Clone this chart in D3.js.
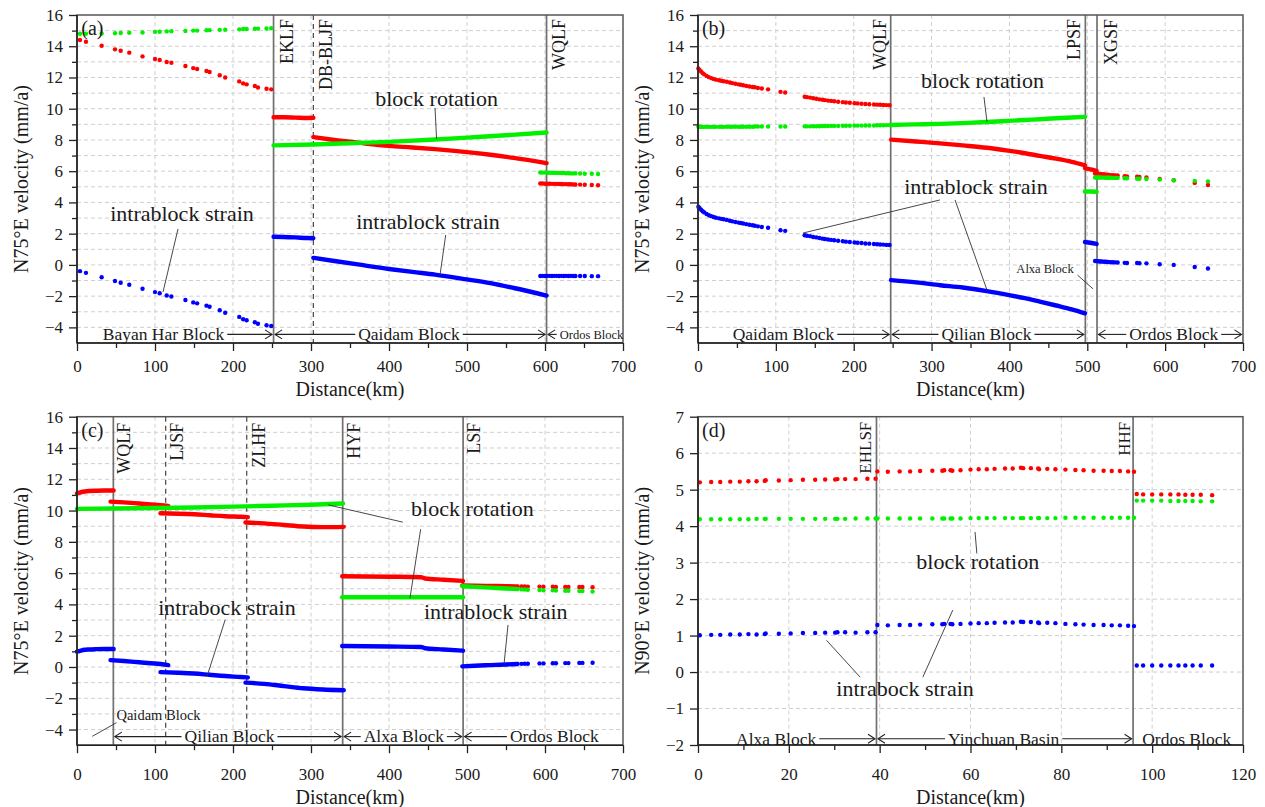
<!DOCTYPE html>
<html><head><meta charset="utf-8">
<script src="https://cdn.jsdelivr.net/npm/d3@7"></script>
<style>
body{margin:0;background:#fff;}
text{font-family:"Liberation Serif","Times New Roman",serif;fill:#1a1a1a;}
</style>
</head><body>
<script>
// ======================= DATA =======================
// tick labels
const tickKm = [0,100,200,300,400,500,600,700];
const tickVel = [-4,-2,0,2,4,6,8,10,12,14,16];
const tickKmD = [0,20,40,60,80,100,120];
const tickVelD = [-2,-1,0,1,2,3,4,5,6,7];

// ---- panel (a) ----
const aDist1=[3.8,11.5,31.6,48.7,56,67,84,100,106,115,121,139,149,154,166,170,183,190,208,213,217.5,228,232,243,249];
const aRed1=[14.4,14.29,14.03,13.8,13.71,13.59,13.35,13.18,13.12,12.99,12.94,12.73,12.6,12.54,12.41,12.35,12.15,12.0,11.75,11.62,11.56,11.45,11.36,11.28,11.24];
const aGreen1=[14.8,14.8,14.82,14.83,14.85,14.86,14.88,14.92,14.93,14.95,14.96,14.98,15.0,15.0,15.02,15.03,15.05,15.06,15.08,15.1,15.1,15.12,15.13,15.14,15.15];
const aBlue1=[-0.4,-0.51,-0.79,-1.03,-1.14,-1.27,-1.53,-1.74,-1.81,-1.96,-2.02,-2.25,-2.4,-2.46,-2.61,-2.68,-2.9,-3.06,-3.33,-3.48,-3.54,-3.67,-3.77,-3.86,-3.91];
const aDist2=[252,265,280,295,303];
const aRed2=[9.45,9.45,9.43,9.41,9.42];
const aBlue2=[1.8,1.79,1.76,1.72,1.71];
const aDistG=[252,303,350,400,459,500,550,602];
const aGreenG=[7.65,7.71,7.79,7.88,8.03,8.15,8.3,8.48];
const aDist3=[303,330,360,400,430,459,500,530,560,602];
const aRed3=[8.18,8.0,7.83,7.62,7.52,7.41,7.22,7.05,6.85,6.52];
const aBlue3=[0.45,0.25,0.03,-0.26,-0.45,-0.62,-0.93,-1.17,-1.48,-1.96];
const aDist4=[594,597,600,603,606,609,612,615,618,621,624,627,630,633,636,639,645,651,660,668];
const aRed4=[5.21,5.21,5.2,5.2,5.2,5.19,5.19,5.19,5.18,5.18,5.17,5.17,5.16,5.16,5.15,5.15,5.14,5.13,5.12,5.1];
const aGreen4=[5.92,5.91,5.91,5.9,5.9,5.9,5.89,5.89,5.89,5.88,5.88,5.87,5.87,5.86,5.86,5.86,5.85,5.84,5.84,5.82];
const aBlue4=[-0.71,-0.7,-0.71,-0.7,-0.7,-0.71,-0.7,-0.7,-0.71,-0.7,-0.71,-0.7,-0.71,-0.7,-0.71,-0.71,-0.71,-0.71,-0.72,-0.72];
const aFaults=["EKLF","DB-BLJF","WQLF"];
const aFaultKm=[252,303,602];
const aBlocks=["Bayan Har Block","Qaidam Block","Ordos Block"];
const aBlockFrom=[0,252,602];
const aBlockTo=[252,602,700];

// ---- panel (b) ----
const bDist1=[0.5,2,4,6,8,11,14,17,20,23,27,30,33,37,41,44,48,52,55,58,62,66,70,73,77,82,90,106,112,137,140,144,148,152,156,160,163,167,171,175,180,186,190,195,201,205,210,215,220,226,230,234,238,242,246];
const bRed1=[12.57,12.48,12.38,12.28,12.2,12.1,12.02,11.96,11.91,11.86,11.82,11.79,11.76,11.73,11.68,11.64,11.6,11.56,11.53,11.5,11.46,11.42,11.39,11.37,11.33,11.29,11.24,11.08,11.04,10.77,10.74,10.71,10.67,10.64,10.6,10.57,10.55,10.52,10.5,10.48,10.45,10.42,10.4,10.38,10.35,10.34,10.32,10.3,10.29,10.27,10.26,10.25,10.24,10.23,10.22];
const bGreen1=[8.85,8.85,8.85,8.84,8.84,8.84,8.84,8.84,8.84,8.84,8.84,8.84,8.84,8.85,8.85,8.85,8.85,8.85,8.85,8.85,8.85,8.85,8.85,8.86,8.86,8.86,8.86,8.86,8.86,8.87,8.87,8.87,8.88,8.88,8.88,8.89,8.89,8.89,8.9,8.9,8.9,8.91,8.91,8.91,8.92,8.92,8.92,8.93,8.93,8.93,8.94,8.94,8.94,8.95,8.95];
const bBlue1=[3.72,3.63,3.53,3.44,3.36,3.26,3.18,3.12,3.07,3.02,2.98,2.95,2.92,2.88,2.83,2.79,2.75,2.71,2.68,2.65,2.61,2.57,2.54,2.51,2.47,2.43,2.38,2.22,2.18,1.9,1.87,1.84,1.79,1.76,1.72,1.68,1.66,1.63,1.6,1.58,1.55,1.51,1.49,1.47,1.43,1.42,1.4,1.37,1.36,1.34,1.32,1.31,1.3,1.28,1.27];
const bDist2=[248,280,311,340,371,398,420,439,460,480,497];
const bRed2=[8.02,7.9,7.78,7.65,7.5,7.32,7.15,6.98,6.8,6.6,6.38];
const bGreen2=[8.96,9.0,9.03,9.08,9.15,9.22,9.28,9.33,9.39,9.44,9.48];
const bBlue2=[-0.97,-1.12,-1.3,-1.45,-1.68,-1.92,-2.13,-2.35,-2.6,-2.85,-3.1];
const bDist3=[497,504,512];
const bRed3=[6.2,6.12,6.02];
const bGreen3=[4.7,4.7,4.68];
const bBlue3=[1.47,1.42,1.34];
const bDist4=[510,512,514,516,518,520,522,524,526,528,530,533,536,539,548,551,564,567,576,593,611,638,655];
const bRed4=[5.85,5.84,5.83,5.82,5.81,5.8,5.79,5.78,5.77,5.76,5.75,5.74,5.73,5.72,5.68,5.67,5.64,5.63,5.6,5.5,5.42,5.25,5.12];
const bGreen4=[5.6,5.6,5.6,5.6,5.59,5.59,5.59,5.58,5.58,5.58,5.58,5.57,5.57,5.57,5.55,5.55,5.52,5.52,5.5,5.46,5.42,5.38,5.35];
const bBlue4=[0.25,0.24,0.23,0.22,0.22,0.21,0.2,0.2,0.19,0.18,0.17,0.17,0.16,0.15,0.13,0.12,0.12,0.11,0.1,0.04,0,-0.13,-0.23];
const bFaults=["WQLF","LPSF","XGSF"];
const bFaultKm=[247.5,497.5,512.5];
const bBlocks=["Qaidam Block","Qilian Block","Ordos Block"];
const bBlockFrom=[0,247.5,512.5];
const bBlockTo=[247.5,497.5,700];

// ---- panel (c) ----
const cDist1=[0,5,10,15,25,35,47];
const cRed1=[11.1,11.17,11.22,11.25,11.27,11.28,11.28];
const cBlue1=[0.98,1.05,1.1,1.12,1.14,1.15,1.15];
const cDistG=[0,50,100,150,200,250,300,341];
const cGreenG=[10.11,10.13,10.16,10.2,10.25,10.31,10.37,10.45];
const cDist2=[43,60,80,100,117];
const cRed2=[10.57,10.52,10.45,10.38,10.3];
const cBlue2=[0.44,0.38,0.3,0.22,0.12];
const cDist3=[107,130,150,170,190,210,219];
const cRed3=[9.83,9.8,9.76,9.7,9.64,9.6,9.58];
const cBlue3=[-0.33,-0.37,-0.42,-0.5,-0.58,-0.64,-0.67];
const cDist4=[216,240,265,290,315,342];
const cRed4=[9.24,9.18,9.08,8.98,8.94,8.96];
const cBlue4=[-1.0,-1.08,-1.22,-1.36,-1.44,-1.49];
const cDist5=[340,400,441,446,470,495];
const cRed5=[5.8,5.77,5.74,5.66,5.58,5.5];
const cGreen5=[4.46,4.46,4.46,4.46,4.46,4.46];
const cBlue5=[1.34,1.31,1.28,1.2,1.12,1.04];
const cDist6=[494,510,530,550,565];
const cRed6=[5.22,5.2,5.18,5.16,5.15];
const cGreen6=[5.16,5.12,5.07,5.02,4.98];
const cBlue6=[0.04,0.08,0.12,0.16,0.19];
const cDist7=[570,574,578,593,598,610,614,626,630,644,648,661];
const cRed7=[5.15,5.15,5.14,5.14,5.13,5.13,5.12,5.12,5.12,5.11,5.11,5.1];
const cGreen7=[4.96,4.95,4.94,4.92,4.91,4.9,4.89,4.87,4.87,4.85,4.85,4.82];
const cBlue7=[0.2,0.21,0.21,0.23,0.23,0.24,0.24,0.25,0.25,0.26,0.26,0.27];
const cFaults=["WQLF","LJSF","ZLHF","HYF","LSF"];
const cFaultKm=[46.6,113.7,217.6,340.6,495];
const cBlocks=["Qilian Block","Alxa Block","Ordos Block"];
const cBlockFrom=[46.6,340.6,495];
const cBlockTo=[340.6,495,700];

// ---- panel (d) ----
const dDist1=[0.4,2.9,4.9,7.1,9.2,11.1,12.9,14.7,14.9,17.8,20.4,23.1,25.8,28,30.2,30.7,32.4,34.7,37.3,39.1];
const dRed1=[5.2,5.21,5.21,5.22,5.22,5.23,5.23,5.24,5.26,5.25,5.26,5.27,5.27,5.28,5.28,5.29,5.29,5.29,5.3,5.3];
const dGreen1=[4.19,4.19,4.19,4.19,4.19,4.19,4.2,4.2,4.2,4.2,4.2,4.2,4.2,4.2,4.2,4.2,4.2,4.21,4.21,4.21];
const dBlue1=[1.01,1.02,1.02,1.03,1.03,1.04,1.03,1.04,1.06,1.05,1.06,1.07,1.07,1.08,1.08,1.09,1.09,1.08,1.09,1.09];
const dDist2=[39.5,41.8,44.4,46.7,48.9,51.6,53.8,54.2,55.6,56.0,57.8,60,61.8,63.6,65.3,67.6,69.3,71.1,71.6,73.3,74.9,75.1,76.9,78.7,80.9,83.1,84.9,87.1,89.3,91.1,92.9,94.7,96];
const dRed2=[5.5,5.49,5.5,5.5,5.51,5.52,5.52,5.53,5.53,5.52,5.53,5.55,5.56,5.56,5.57,5.58,5.58,5.6,5.59,5.59,5.58,5.56,5.57,5.56,5.55,5.54,5.53,5.52,5.52,5.51,5.51,5.5,5.49];
const dGreen2=[4.21,4.21,4.21,4.21,4.21,4.21,4.21,4.21,4.21,4.21,4.21,4.22,4.22,4.22,4.22,4.22,4.22,4.22,4.22,4.22,4.22,4.22,4.22,4.22,4.23,4.23,4.23,4.23,4.23,4.23,4.23,4.23,4.23];
const dBlue2=[1.29,1.28,1.29,1.29,1.3,1.31,1.31,1.32,1.32,1.31,1.32,1.33,1.34,1.34,1.35,1.36,1.36,1.38,1.37,1.37,1.36,1.34,1.35,1.34,1.32,1.31,1.3,1.29,1.29,1.28,1.28,1.27,1.26];
const dDist3=[96.6,98,100,102,104,105.8,107.3,108.9,110.7,113.2];
const dRed3=[4.88,4.87,4.87,4.87,4.87,4.87,4.86,4.86,4.86,4.85];
const dGreen3=[4.7,4.7,4.7,4.7,4.69,4.69,4.69,4.69,4.68,4.68];
const dBlue3=[0.18,0.18,0.18,0.18,0.18,0.18,0.18,0.18,0.18,0.18];
const dFaults=["EHLSF","HHF"];
const dFaultKm=[39.3,95.8];
const dBlocks=["Alxa Block","Yinchuan Basin","Ordos Block"];
const dBlockFrom=[0,39.3,95.8];
const dBlockTo=[39.3,95.8,120];

// ======================= LAYOUT / DRAWING =======================
const COL={red:'#ff0000',green:'#00f000',blue:'#0000ff'};
const svg=d3.select('body').append('svg').attr('width',1265).attr('height',807).style('display','block');

const S=(d,v,c,dense)=>({d,v,c,dense});

const panels=[
{ left:77, top:15, w:546, h:328, xd:[0,700], yd:[-5,16], lab:0,
  xTicks:tickKm, xMinor:d3.range(50,700,100), yTicks:tickVel, yMinor:d3.range(-3,16,2),
  xGrid:d3.range(100,700,100), yGrid:d3.range(-4,16,1),
  yTitle:'N75°E velocity (mm/a)',
  series:[S(aDist1,aRed1,'red'),S(aDist1,aGreen1,'green'),S(aDist1,aBlue1,'blue'),
          S(aDist2,aRed2,'red',1),S(aDist3,aRed3,'red',1),S(aDistG,aGreenG,'green',1),
          S(aDist2,aBlue2,'blue',1),S(aDist3,aBlue3,'blue',1),
          S(aDist4,aRed4,'red'),S(aDist4,aGreen4,'green'),S(aDist4,aBlue4,'blue')],
  faults:aFaults, faultKm:aFaultKm, faultDash:[0,1,0], faultOff:[19,19,18], faultTop:4, faultSize:18,
  blocks:aBlocks, bFrom:aBlockFrom, bTo:aBlockTo, blockY:-4.45,
  bLayout:[{c:110.9,l:0,r:1,s:17.5},{c:425.6,l:1,r:1,s:17.5},{c:659.6,l:1,r:0,s:12.5}],
  texts:[{t:'(a)',x:5.5,y:14.75,a:'start',s:20},{t:'block rotation',x:461,y:10.17,s:22},
         {t:'intrablock strain',x:134.6,y:2.81,s:22},{t:'intrablock strain',x:450,y:2.3,s:22}],
  leaders:[[459,10.05,461,8.06],[129.5,2.3,110.3,-1.73],[472.7,1.92,465.4,-0.65]]
},
{ left:698, top:15, w:545, h:328, xd:[0,700], yd:[-5,16], lab:0,
  xTicks:tickKm, xMinor:d3.range(50,700,100), yTicks:tickVel, yMinor:d3.range(-3,16,2),
  xGrid:d3.range(100,700,100), yGrid:d3.range(-4,16,1),
  yTitle:'N75°E velocity (mm/a)',
  series:[S(bDist1,bRed1,'red'),S(bDist1,bGreen1,'green'),S(bDist1,bBlue1,'blue'),
          S(bDist2,bRed2,'red',1),S(bDist2,bGreen2,'green',1),S(bDist2,bBlue2,'blue',1),
          S(bDist3,bRed3,'red',1),S(bDist3,bGreen3,'green',1),S(bDist3,bBlue3,'blue',1),
          S(bDist4,bRed4,'red'),S(bDist4,bGreen4,'green'),S(bDist4,bBlue4,'blue')],
  faults:bFaults, faultKm:bFaultKm, faultDash:[0,0,0], faultOff:[-5,-5,20], faultTop:4, faultSize:18,
  blocks:bBlocks, bFrom:bBlockFrom, bTo:bBlockTo, blockY:-4.45,
  bLayout:[{c:109.8,l:0,r:1,s:17.5},{c:370.5,l:1,r:1,s:17.5},{c:611,l:1,r:1,s:17.5}],
  texts:[{t:'(b)',x:5,y:14.75,a:'start',s:20},{t:'block rotation',x:365.4,y:11.33,s:22},
         {t:'intrablock strain',x:357,y:4.54,s:22},{t:'Alxa Block',x:445.7,y:-0.52,s:12.5}],
  leaders:[[367.3,10.75,371.2,9.15],[310.8,4.16,134.9,2.04],[330.1,4.16,371.2,-1.61],[487.4,-0.65,507.5,-1.54]]
},
{ left:77, top:416.7, w:546, h:328.5, xd:[0,700], yd:[-5,16], lab:6,
  xTicks:tickKm, xMinor:d3.range(50,700,100), yTicks:tickVel, yMinor:d3.range(-3,16,2),
  xGrid:d3.range(100,700,100), yGrid:d3.range(-4,16,1),
  yTitle:'N75°E velocity (mm/a)',
  series:[S(cDist1,cRed1,'red',1),S(cDist2,cRed2,'red',1),S(cDist3,cRed3,'red',1),S(cDist4,cRed4,'red',1),
          S(cDist5,cRed5,'red',1),S(cDist6,cRed6,'red',1),S(cDist7,cRed7,'red'),
          S(cDistG,cGreenG,'green',1),S(cDist5,cGreen5,'green',1),S(cDist6,cGreen6,'green',1),S(cDist7,cGreen7,'green'),
          S(cDist1,cBlue1,'blue',1),S(cDist2,cBlue2,'blue',1),S(cDist3,cBlue3,'blue',1),S(cDist4,cBlue4,'blue',1),
          S(cDist5,cBlue5,'blue',1),S(cDist6,cBlue6,'blue',1),S(cDist7,cBlue7,'blue')],
  faults:cFaults, faultKm:cFaultKm, faultDash:[0,1,1,0,0], faultOff:[17,17,18,17,17], faultTop:6, faultSize:18,
  blocks:cBlocks, bFrom:cBlockFrom, bTo:cBlockTo, blockY:-4.45,
  bLayout:[{c:195.5,l:1,r:1,s:17.5},{c:419,l:1,r:1,s:17.5},{c:612,l:1,r:0,s:17.5}],
  texts:[{t:'(c)',x:5.5,y:14.7,a:'start',s:20},{t:'block rotation',x:507,y:9.66,s:22},
         {t:'intrabock strain',x:192.3,y:3.34,s:22},{t:'intrablock strain',x:536.9,y:3.08,s:22},
         {t:'Qaidam Block',x:50.6,y:-3.37,a:'start',s:14.5}],
  leaders:[[417.6,9.26,322.2,10.36],[440.6,8.81,426.9,4.4],[190,3.02,166.7,-0.6],[552.6,2.69,547.4,0.14],[50.6,-3.56,19.7,-4.43]]
},
{ left:698, top:416.7, w:545, h:328.3, xd:[0,120], yd:[-2,7], lab:6,
  xTicks:tickKmD, xMinor:d3.range(10,120,20), yTicks:tickVelD, yMinor:[],
  xGrid:d3.range(20,120,20), yGrid:d3.range(-1,7,1),
  yTitle:'N90°E velocity (mm/a)',
  series:[S(dDist1,dRed1,'red'),S(dDist1,dGreen1,'green'),S(dDist1,dBlue1,'blue'),
          S(dDist2,dRed2,'red'),S(dDist2,dGreen2,'green'),S(dDist2,dBlue2,'blue'),
          S(dDist3,dRed3,'red'),S(dDist3,dGreen3,'green'),S(dDist3,dBlue3,'blue')],
  faults:dFaults, faultKm:dFaultKm, faultDash:[0,0], faultOff:[-5,-3], faultTop:5, faultSize:17,
  blocks:dBlocks, bFrom:dBlockFrom, bTo:dBlockTo, blockY:-1.83,
  bLayout:[{c:17.2,l:0,r:1,s:17.5},{c:67.3,l:1,r:1,s:17.5},{c:107.6,l:0,r:0,s:17.5}],
  texts:[{t:'(d)',x:0.9,y:6.44,a:'start',s:20},{t:'block rotation',x:61.6,y:2.82,s:22},
         {t:'intrabock strain',x:45.6,y:-0.66,s:22}],
  leaders:[[61,3.84,61.4,3.25],[35.7,-0.14,28.3,0.87],[49.5,-0.14,56.1,1.7]]
}];

function arrowLine(g,x1,x2,yy){
  g.append('line').attr('x1',x1).attr('x2',x2).attr('y1',yy).attr('y2',yy)
    .attr('stroke','#222').attr('stroke-width',1.1);
  const dir=Math.sign(x2-x1);
  g.append('path').attr('d',`M${x2-dir*7},${yy-4.5}L${x2},${yy}L${x2-dir*7},${yy+4.5}`)
    .attr('fill','none').attr('stroke','#222').attr('stroke-width',1.1);
}

panels.forEach(p=>{
  const x=d3.scaleLinear().domain(p.xd).range([p.left,p.left+p.w]);
  const y=d3.scaleLinear().domain(p.yd).range([p.top+p.h,p.top]);
  const g=svg.append('g');
  const bottom=p.top+p.h;

  // grid
  g.append('g').selectAll('line').data(p.yGrid).join('line')
    .attr('x1',p.left).attr('x2',p.left+p.w).attr('y1',d=>y(d)).attr('y2',d=>y(d))
    .attr('stroke','#cfcfcf').attr('stroke-width',1).attr('stroke-dasharray','4,3');
  g.append('g').selectAll('line').data(p.xGrid).join('line')
    .attr('y1',p.top).attr('y2',bottom).attr('x1',d=>x(d)).attr('x2',d=>x(d))
    .attr('stroke','#cfcfcf').attr('stroke-width',1).attr('stroke-dasharray','4,3');

  // fault lines + labels
  p.faultKm.forEach((k,i)=>{
    const fx=x(k), dash=p.faultDash[i];
    g.append('line').attr('x1',fx).attr('x2',fx).attr('y1',p.top).attr('y2',bottom)
      .attr('stroke',dash?'#444':'#707070').attr('stroke-width',dash?1.2:1.7)
      .attr('stroke-dasharray',dash?'5,4':null);
    g.append('text').attr('transform',`translate(${fx+p.faultOff[i]},${p.top+p.faultTop}) rotate(-90)`)
      .attr('text-anchor','end').attr('font-size',p.faultSize).text(p.faults[i]);
  });

  // series
  const line=d3.line().x(d=>d[0]).y(d=>d[1]).curve(d3.curveMonotoneX);
  p.series.forEach(s=>{
    const pts=s.d.map((d,i)=>[x(d),y(s.v[i])]);
    if(s.dense){
      g.append('path').attr('d',line(pts)).attr('fill','none').attr('stroke',COL[s.c])
        .attr('stroke-width',4.4).attr('stroke-linecap','round').attr('stroke-linejoin','round');
    } else {
      g.append('g').selectAll('circle').data(pts).join('circle')
        .attr('cx',d=>d[0]).attr('cy',d=>d[1]).attr('r',2.2).attr('fill',COL[s.c]);
    }
  });

  // frame
  g.append('rect').attr('x',p.left).attr('y',p.top).attr('width',p.w).attr('height',p.h)
    .attr('fill','none').attr('stroke','#555').attr('stroke-width',1.5);

  // axes
  const gx=g.append('g').attr('transform',`translate(0,${bottom})`)
    .call(d3.axisBottom(x).tickValues(p.xTicks).tickSize(8).tickPadding(9+p.lab).tickFormat(d3.format('d')));
  const gxm=g.append('g').attr('transform',`translate(0,${bottom})`)
    .call(d3.axisBottom(x).tickValues(p.xMinor).tickSize(5).tickFormat(''));
  const gy=g.append('g').attr('transform',`translate(${p.left},0)`)
    .call(d3.axisLeft(y).tickValues(p.yTicks).tickSize(8).tickPadding(6).tickFormat(d3.format('d')));
  const gym=g.append('g').attr('transform',`translate(${p.left},0)`)
    .call(d3.axisLeft(y).tickValues(p.yMinor).tickSize(5).tickFormat(''));
  [gx,gxm,gy,gym].forEach(a=>{
    a.select('.domain').remove();
    a.selectAll('line').attr('stroke','#222').attr('stroke-width',1.3);
    a.selectAll('text').attr('font-size',17).attr('fill','#1a1a1a');
  });
  g.append('line').attr('x1',p.left).attr('x2',p.left+p.w).attr('y1',bottom).attr('y2',bottom)
    .attr('stroke','#222').attr('stroke-width',1.6);
  g.append('line').attr('x1',p.left).attr('x2',p.left).attr('y1',p.top).attr('y2',bottom)
    .attr('stroke','#222').attr('stroke-width',1.6);

  // axis titles
  g.append('text').attr('x',p.left+p.w/2).attr('y',bottom+53+p.lab).attr('text-anchor','middle')
    .attr('font-size',20).text('Distance(km)');
  g.append('text').attr('transform',`translate(${p.left-49},${p.top+p.h/2}) rotate(-90)`)
    .attr('text-anchor','middle').attr('font-size',20).text(p.yTitle);

  // block labels with arrows
  const by=y(p.blockY);
  p.blocks.forEach((name,i)=>{
    const L=p.bLayout[i];
    const cx=x(L.c);
    const t=g.append('text').attr('x',cx).attr('y',by+(L.s>14?5.8:4.2)).attr('text-anchor','middle')
      .attr('font-size',L.s).text(name);
    const tw=t.node().getComputedTextLength();
    if(L.l) arrowLine(g,cx-tw/2-3,x(p.bFrom[i])+1.5,by);
    if(L.r) arrowLine(g,cx+tw/2+3,x(p.bTo[i])-1.5,by);
  });

  // annotation leaders and texts
  p.leaders.forEach(l=>{
    g.append('line').attr('x1',x(l[0])).attr('y1',y(l[1])).attr('x2',x(l[2])).attr('y2',y(l[3]))
      .attr('stroke','#333').attr('stroke-width',0.9);
  });
  p.texts.forEach(t=>{
    g.append('text').attr('x',x(t.x)).attr('y',y(t.y)).attr('text-anchor',t.a||'middle')
      .attr('font-size',t.s).text(t.t);
  });
});
</script>
</body></html>
